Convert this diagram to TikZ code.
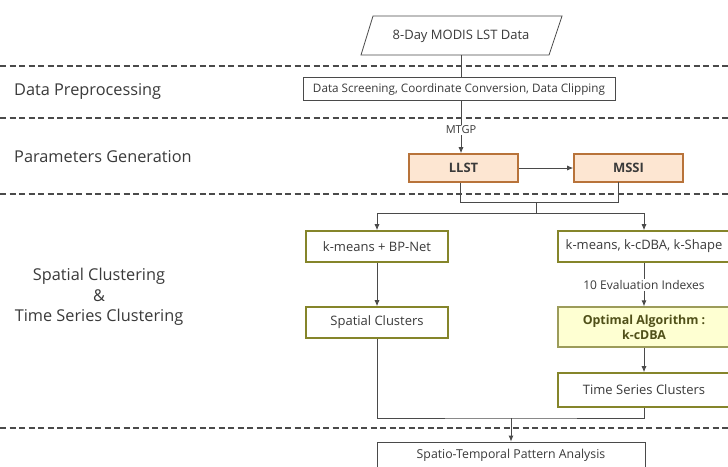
\documentclass[tikz,border=0pt]{standalone}
\usepackage{fontspec}
\setmainfont{Open Sans}
\usetikzlibrary{arrows.meta}
\definecolor{txt}{HTML}{3A3A3A}
\definecolor{ln}{HTML}{4A4A4A}
\definecolor{orfill}{HTML}{FDE6D2}
\definecolor{ordraw}{HTML}{B8733A}
\definecolor{olive}{HTML}{85852A}
\definecolor{yelfill}{HTML}{FEFFD2}
\definecolor{yeldraw}{HTML}{9C9C5A}
\tikzset{
  every node/.style={text=txt, inner sep=0pt},
  sep/.style={draw=ln, line width=1.1pt, dash pattern=on 6pt off 3.5pt},
  conn/.style={draw=ln, line width=0.8pt},
  arr/.style={conn, -{Latex[length=6pt,width=5pt]}},
  plainbox/.style={draw=ln, line width=0.8pt, fill=white, font=\fontsize{11.7}{14}\selectfont},
  orbox/.style={draw=ordraw, line width=1.6pt, fill=orfill, font=\fontsize{13}{15}\selectfont\bfseries, minimum width=109pt, minimum height=28pt},
  olbox/.style={draw=olive, line width=1.6pt, fill=white, font=\fontsize{13}{15}\selectfont, minimum height=31pt},
  yelbox/.style={draw=yeldraw, line width=1.3pt, fill=yelfill, font=\fontsize{12.4}{15}\selectfont\bfseries, text=olive!60!black, minimum height=40pt, align=center},
  lbl/.style={font=\fontsize{16.3}{19}\selectfont, anchor=west},
  small/.style={fill=white, inner sep=1pt},
}
\begin{document}
\begin{tikzpicture}[x=1pt,y=-1pt]
\useasboundingbox (0,0) rectangle (728,466);
\clip (0,0) rectangle (728,466);
\fill[white] (0,0) rectangle (728,466);
% separators
\foreach \yy in {66,118,194,428} \draw[sep] (0,\yy) -- (728,\yy);
% left labels
\node[lbl] (l1) at (14,91) {Data Preprocessing};
\node[lbl] (l2) at (14,157) {Parameters Generation};
\node[font=\fontsize{16.3}{20.5}\selectfont, align=center] (l3) at (99,297) {Spatial Clustering\\\&\\Time Series Clustering};
% input parallelogram
\draw[conn, fill=white] (373,16) -- (562,16) -- (549,55) -- (361,55) -- cycle;
\coordinate (inb) at (461,55);
\node[font=\fontsize{13}{15}\selectfont] (in) at (461,36) {8-Day MODIS LST Data};
\node[plainbox, minimum width=312pt, minimum height=23pt] (pre) at (459,89) {Data Screening, Coordinate Conversion, Data Clipping};
\node[orbox] (llst) at (463.5,168) {LLST};
\node[orbox] (mssi) at (628.5,168) {MSSI};
\node[olbox, minimum width=142pt] (km) at (377,246.5) {k-means + BP-Net};
\node[olbox, minimum width=172pt] (kms) at (644,246.5) {k-means, k-cDBA, k-Shape};
\node[olbox, minimum width=142pt] (sc) at (377,322.5) {Spatial Clusters};
\node[yelbox, minimum width=172pt] (opt) at (644,327) {Optimal Algorithm :\\k-cDBA};
\node[olbox, minimum width=172pt, minimum height=34pt] (ts) at (644,390) {Time Series Clusters};
\node[plainbox, minimum width=268pt, minimum height=32pt] (st) at (511,458) {};
\node[font=\fontsize{12.3}{14}\selectfont] (sttext) at (511,455) {Spatio-Temporal Pattern Analysis};
% connectors
\draw[conn] (inb) -- (inb |- pre.north);
\node[small, font=\fontsize{11}{13}\selectfont] (mtgp) at (461,130) {MTGP};
\draw[conn] (pre.south -| mtgp.north) -- (mtgp.north);
\draw[arr] (mtgp.south) -- (mtgp.south |- llst.north);
\draw[arr] (llst.east) -- (mssi.west);
\coordinate (j1) at (536,202);
\coordinate (j2) at (536,213);
\draw[conn] (llst.south -| 460,0) -- (460,202) -- (618,202) -- (618,182);
\draw[conn] (j1) -- (j2);
\draw[arr] (j2) -| (km.north);
\draw[arr] (j2) -| (kms.north);
\draw[arr] (km.south) -- (sc.north);
\node[small, font=\fontsize{12}{14}\selectfont] (ev) at (644,285) {10 Evaluation Indexes};
\draw[conn] (kms.south) -- (ev.north);
\draw[arr] (ev.south) -- (opt.north);
\draw[arr] (opt.south) -- (ts.north);
\coordinate (j3) at (511,418);
\draw[conn] (sc.south) |- (j3) -| (ts.south);
\draw[arr] (j3) -- (st.north);
\end{tikzpicture}
\end{document}
